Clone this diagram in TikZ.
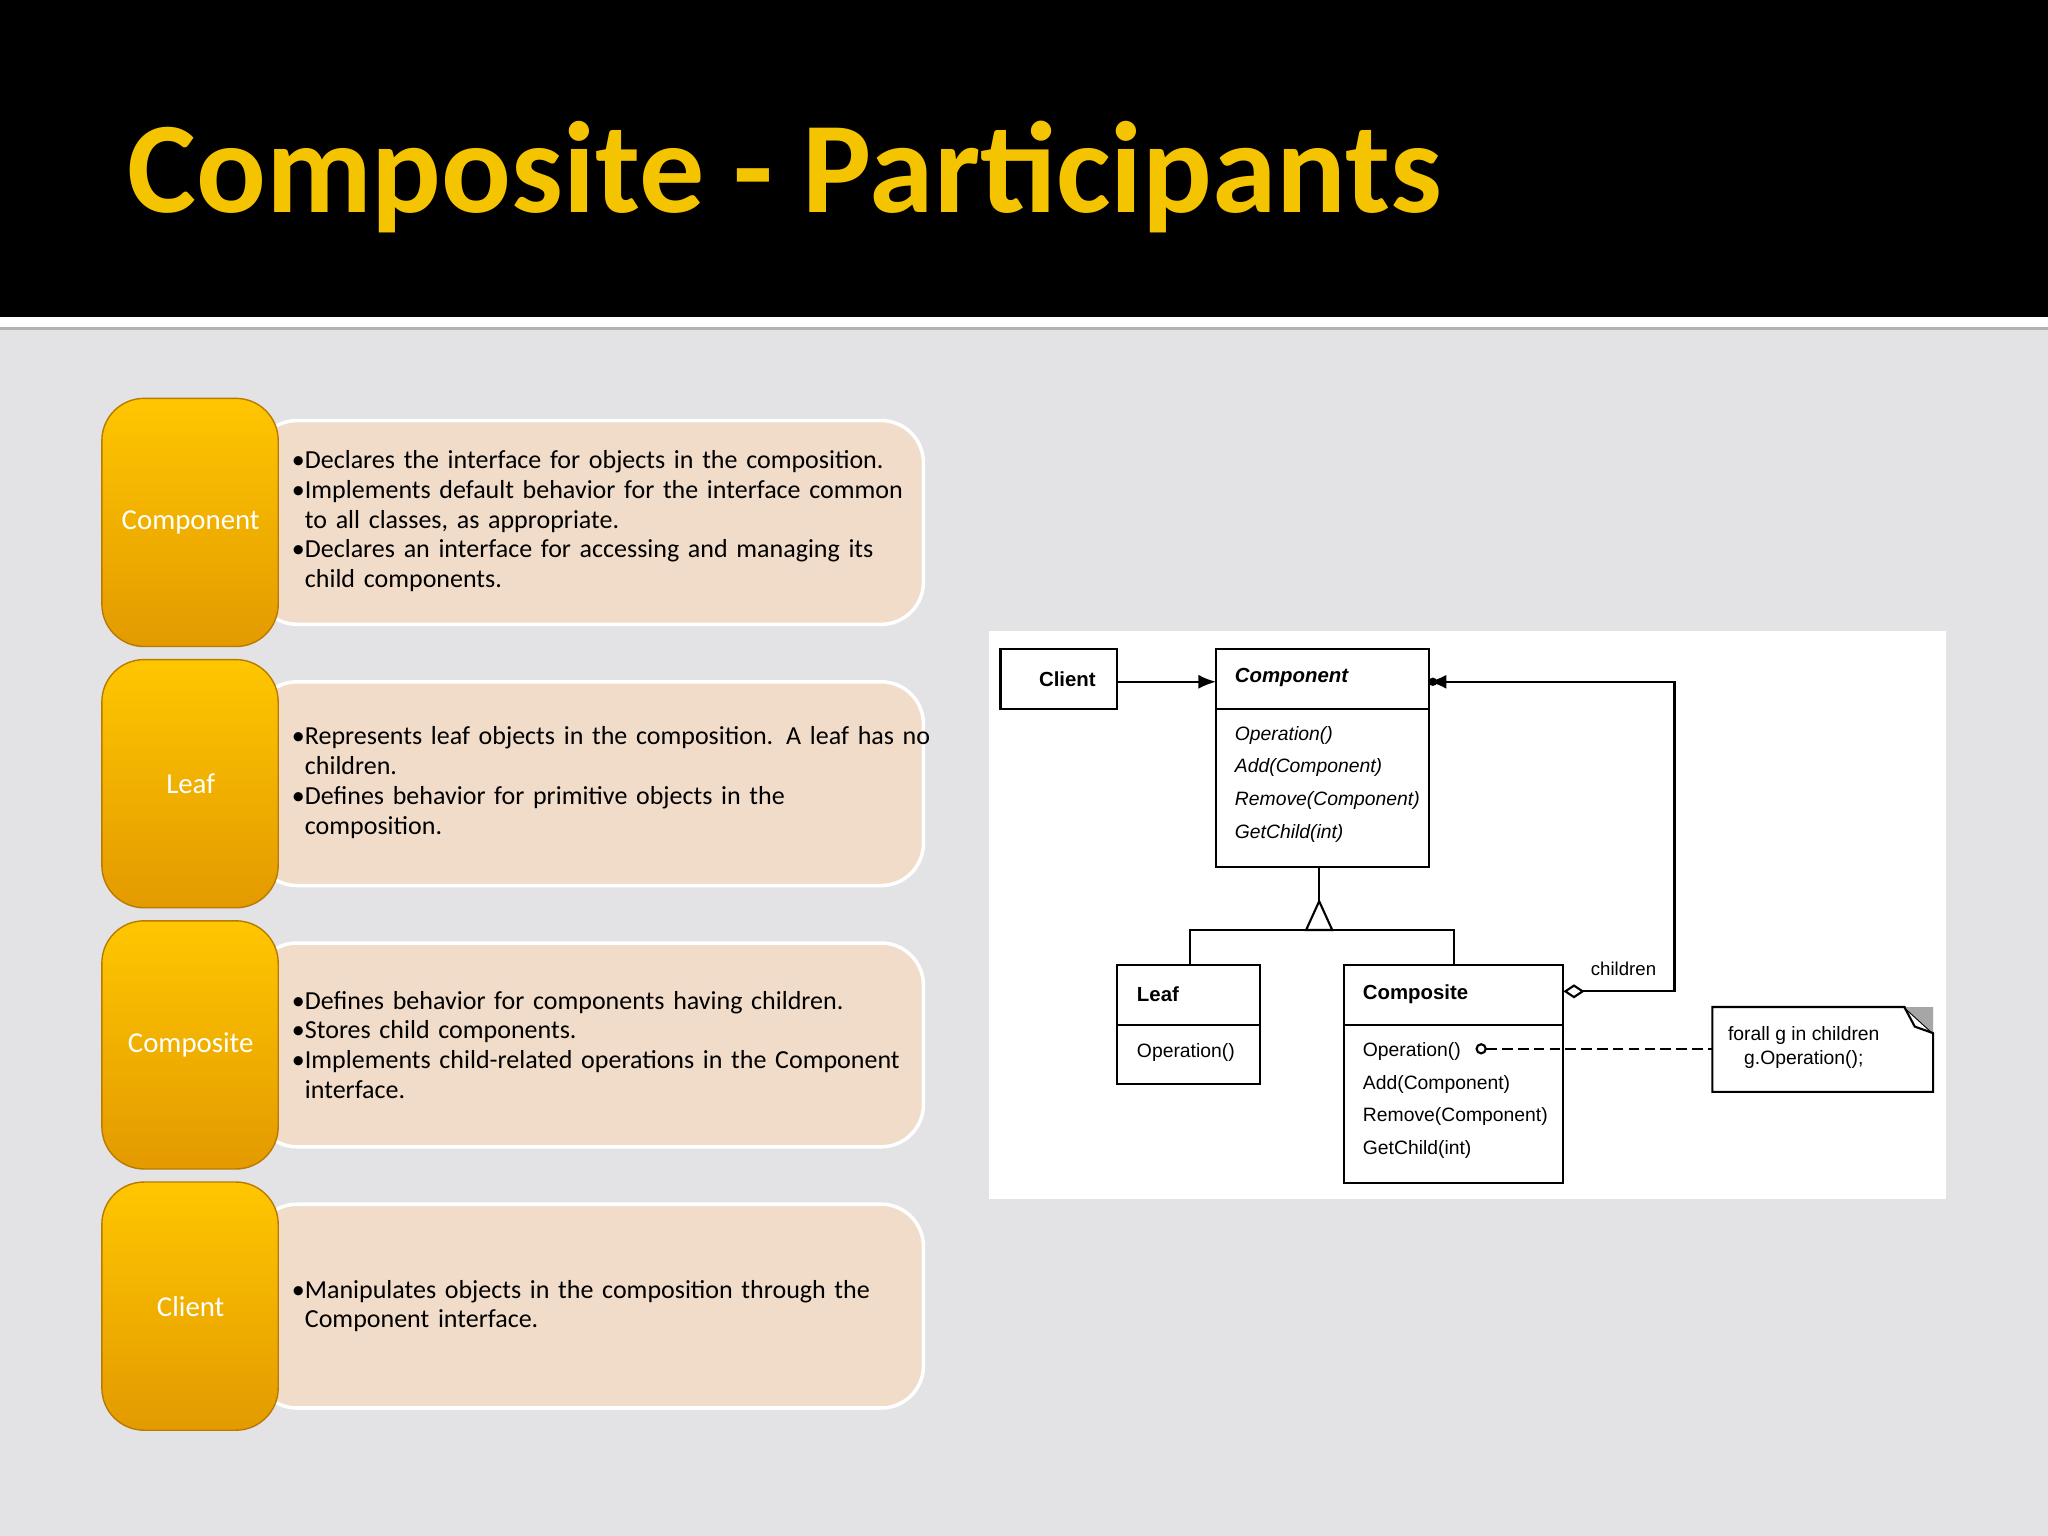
\documentclass[tikz,border=0pt]{standalone}
\usepackage{fontspec}
\setmainfont{Carlito}
\newfontfamily\umlf{Liberation Sans}
\usetikzlibrary{arrows.meta}
\definecolor{bg}{HTML}{E3E3E6}
\definecolor{ttl}{HTML}{F5C400}
\definecolor{beige}{HTML}{F0DCC8}
\definecolor{ytop}{HTML}{FFC600}
\definecolor{ybot}{HTML}{E39A00}
\begin{document}
\begin{tikzpicture}[x=0.013061cm,y=-0.013061cm,
 tab/.style={rounded corners=12pt,top color=ytop,bottom color=ybot,draw=ybot!80!black,line width=0.4pt},
 card/.style={rounded corners=12pt,fill=beige,draw=white,line width=1pt},
 tabtxt/.style={text=white,font=\fontsize{8.2}{10}\selectfont},
 bul/.style={anchor=west,align=left,text width=6.6cm,font=\fontsize{7.4}{8.5}\selectfont},
 cls/.style={draw,line width=0.6pt},
 u/.style={font=\umlf\fontsize{5.5}{7}\selectfont,anchor=west},
 ub/.style={font=\umlf\bfseries\fontsize{5.8}{7}\selectfont,anchor=west},
 ln/.style={line width=0.6pt}]
\useasboundingbox (0,0) rectangle (1568,1176);
\fill[bg] (0,0) rectangle (1568,1176);
\fill[black] (0,0) rectangle (1568,243);
\fill[white] (0,243) rectangle (1568,250);
\fill[gray!60] (0,250) rectangle (1568,253);
\node[anchor=base west,inner sep=0,text=ttl,font=\bfseries\fontsize{37}{44}\selectfont] (title) at (97,163) {Composite - Participants};
% rows
\foreach \t/\lab/\nm in {305/Component/a,505/Leaf/b,705/Composite/c,905/Client/d}{
  \draw[card] (195,\t+17) rectangle (707,\t+173);
  \draw[tab] (78,\t) rectangle (213,\t+190);
  \node[tabtxt] (t\nm) at (146,\t+95) {\lab};
}
\node[bul] (ba) at (214,399) {\textbullet Declares the interface for objects in the composition.\\\textbullet Implements default behavior for the interface common\\\hspace*{0.5em}to all classes, as appropriate.\\\textbullet Declares an interface for accessing and managing its\\\hspace*{0.5em}child components.};
\node[bul] (bb) at (214,599) {\textbullet Represents leaf objects in the composition. A leaf has no\\\hspace*{0.5em}children.\\\textbullet Defines behavior for primitive objects in the\\\hspace*{0.5em}composition.};
\node[bul] (bc) at (214,800) {\textbullet Defines behavior for components having children.\\\textbullet Stores child components.\\\textbullet Implements child-related operations in the Component\\\hspace*{0.5em}interface.};
\node[bul] (bd) at (214,1000) {\textbullet Manipulates objects in the composition through the\\\hspace*{0.5em}Component interface.};
% UML panel
\fill[white] (757,483) rectangle (1490,918);
\draw[cls] (766,497) rectangle (855,543);
\node[ub] (client) at (786,520) {Client};
\draw[cls] (931,497) rectangle (1094,664); \draw[ln] (931,543)--(1094,543);
\node[ub,font=\umlf\bfseries\itshape\fontsize{5.8}{7}\selectfont] (comp) at (936,519) {Component};
\foreach \s[count=\i] in {Operation(),Add(Component),Remove(Component),GetChild(int)}
  \node[u,font=\umlf\itshape\fontsize{5.5}{7}\selectfont] at (936,538+25*\i) {\s};
\draw[cls] (855,739) rectangle (965,830); \draw[ln] (855,785)--(965,785);
\node[ub] (leaf) at (861,761) {Leaf};
\node[u] at (861,806) {Operation()};
\draw[cls] (1029,739) rectangle (1197,906); \draw[ln] (1029,785)--(1197,785);
\node[ub] (composite) at (1034,761) {Composite};
\foreach \s[count=\i] in {Operation(),Add(Component),Remove(Component),GetChild(int)}
  \node[u] at (1034,780+25*\i) {\s};
% note
\draw[ln] (1311,771)--(1458,771)--(1480,791)--(1480,836)--(1311,836)--cycle;
\fill[gray!70] (1458,771)--(1480,771)--(1480,791)--cycle;
\draw[ln] (1458,771)--(1466,786)--(1480,791);
\node[font=\umlf\fontsize{5.5}{7}\selectfont,align=center] (note) at (1381,802) {forall g in children\\g.Operation();};
% connectors
\draw[ln,-{Latex[length=5pt,width=4pt]}] (855,522)--(931,522);
\draw[ln,{Diamond[length=6pt,width=4pt,open,fill=white]}-] (1197,759)--(1282,759)--(1282,522)--(1106,522);
\draw[ln,-{Latex[length=5pt,width=4pt]}] (1115,522)--(1094,522);
\fill (1097,522) circle (3.2);
\node[font=\umlf\fontsize{5.3}{7}\selectfont] (chl) at (1243,742) {children};
\draw[ln] (1010,664)--(1010,690);
\draw[ln,fill=white] (1010,690)--(1000,712)--(1020,712)--cycle;
\draw[ln] (911,739)--(911,712)--(1113,712)--(1113,739);
\draw[ln,dash pattern=on 3pt off 1.5pt] (1138,803)--(1311,803);
\draw[ln,fill=white] (1134,803) circle (3.5);
\end{tikzpicture}
\end{document}
